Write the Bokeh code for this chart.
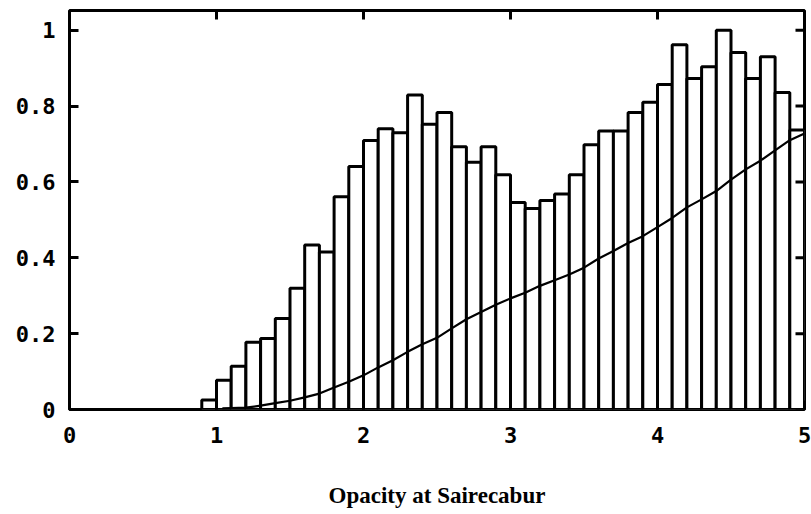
from bokeh.plotting import figure
from bokeh.models import Range1d, LinearAxis, FixedTicker, ColumnDataSource
from bokeh.embed import file_html
from bokeh.resources import INLINE

# ---- data ----
bin_left = [0.9, 1.0, 1.1, 1.2, 1.3, 1.4, 1.5, 1.6, 1.7, 1.8, 1.9,
            2.0, 2.1, 2.2, 2.3, 2.4, 2.5, 2.6, 2.7, 2.8, 2.9,
            3.0, 3.1, 3.2, 3.3, 3.4, 3.5, 3.6, 3.7, 3.8, 3.9,
            4.0, 4.1, 4.2, 4.3, 4.4, 4.5, 4.6, 4.7, 4.8, 4.9]
bin_width = 0.1
hist_values = [0.025, 0.077, 0.114, 0.177, 0.187, 0.240, 0.320, 0.434, 0.415, 0.561, 0.641,
               0.709, 0.740, 0.730, 0.829, 0.752, 0.783, 0.693, 0.652, 0.693, 0.619,
               0.546, 0.530, 0.551, 0.568, 0.619, 0.698, 0.734, 0.734, 0.783, 0.810,
               0.857, 0.962, 0.873, 0.904, 1.000, 0.941, 0.873, 0.930, 0.836, 0.737]

cum_x = [1.04, 1.1, 1.2, 1.3, 1.4, 1.5, 1.6, 1.7, 1.8, 1.9, 2.0, 2.1, 2.2, 2.3, 2.4, 2.5,
         2.6, 2.7, 2.8, 2.9, 3.0, 3.1, 3.2, 3.3, 3.4, 3.5, 3.6, 3.7, 3.8, 3.9,
         4.0, 4.1, 4.2, 4.3, 4.4, 4.5, 4.6, 4.7, 4.8, 4.9, 5.0]
cum_y = [0.003, 0.004, 0.005, 0.010, 0.017, 0.023, 0.032, 0.042, 0.058, 0.073, 0.090, 0.111,
         0.130, 0.152, 0.172, 0.189, 0.214, 0.238, 0.257, 0.276, 0.293, 0.308, 0.326,
         0.341, 0.356, 0.374, 0.398, 0.418, 0.439, 0.457, 0.481, 0.505, 0.533, 0.554,
         0.576, 0.606, 0.633, 0.656, 0.683, 0.710, 0.728]

x_ticks = [0, 1, 2, 3, 4, 5]
y_ticks = [0, 0.2, 0.4, 0.6, 0.8, 1]
y_tick_labels = ["0", "0.2", "0.4", "0.6", "0.8", "1"]
x_label = "Opacity at Sairecabur"

X_MIN, X_MAX = 0, 5
Y_MIN, Y_MAX = 0, 1.052

# ---- figure ----
p = figure(width=811, height=514, x_range=Range1d(X_MIN, X_MAX), y_range=Range1d(Y_MIN, Y_MAX),
           output_backend="svg", toolbar_location=None,
           min_border_left=69, min_border_right=7, min_border_top=10, min_border_bottom=105,
           x_axis_location=None, y_axis_location=None)
p.grid.visible = False
p.outline_line_color = "black"
p.outline_line_width = 3
p.background_fill_color = "white"
p.border_fill_color = "white"

tick_font = "DejaVu Sans Mono"

def style_axis(ax, standoff):
    ax.axis_line_color = None
    ax.major_tick_in = 9
    ax.major_tick_out = 0
    ax.major_tick_line_width = 3
    ax.major_tick_line_color = "black"
    ax.minor_tick_line_color = None
    ax.major_label_text_font = tick_font
    ax.major_label_text_font_style = "bold"
    ax.major_label_text_font_size = "22px"
    ax.major_label_text_color = "black"
    ax.major_label_standoff = standoff

xb = LinearAxis(ticker=FixedTicker(ticks=x_ticks))
style_axis(xb, 17)
xb.axis_label = x_label
xb.axis_label_text_font = "Liberation Serif"
xb.axis_label_text_font_style = "bold"
xb.axis_label_text_font_size = "23px"
xb.axis_label_text_color = "black"
xb.axis_label_standoff = 37
p.add_layout(xb, "below")

yl = LinearAxis(ticker=FixedTicker(ticks=y_ticks))
style_axis(yl, 14)
yl.major_label_overrides = {t: s for t, s in zip(y_ticks, y_tick_labels)}
p.add_layout(yl, "left")

src = ColumnDataSource(dict(left=bin_left,
                            right=[b + bin_width for b in bin_left],
                            top=hist_values))
p.quad(left="left", right="right", bottom=0, top="top", source=src,
       fill_color="white", line_color="black", line_width=3)

p.line(cum_x, cum_y, line_color="black", line_width=2.2)

# mirrored inward ticks on top and right edges (9 px long), drawn over the bars
plot_w_px = 811 - 69 - 7
plot_h_px = 514 - 10 - 105
tick_dx = 9 * (X_MAX - X_MIN) / plot_w_px
tick_dy = 9 * (Y_MAX - Y_MIN) / plot_h_px
p.segment(x0=x_ticks, y0=[Y_MAX] * len(x_ticks), x1=x_ticks, y1=[Y_MAX - tick_dy] * len(x_ticks),
          line_color="black", line_width=3)
p.segment(x0=[X_MAX] * len(y_ticks), y0=y_ticks, x1=[X_MAX - tick_dx] * len(y_ticks), y1=y_ticks,
          line_color="black", line_width=3)

open("out.html", "w").write(file_html(p, INLINE))
